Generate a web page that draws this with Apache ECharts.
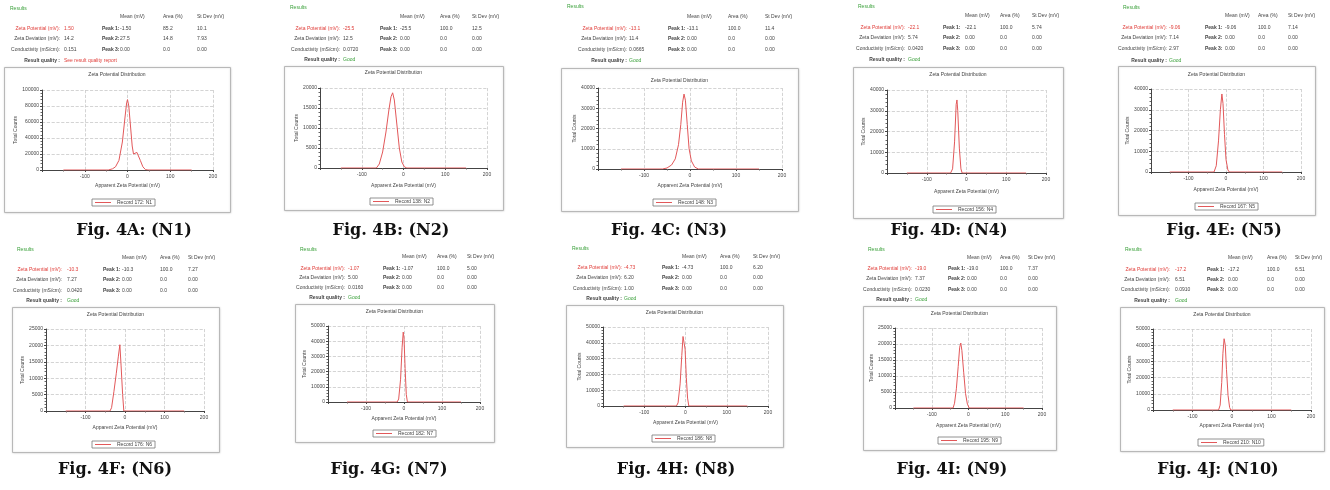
<!DOCTYPE html>
<html><head><meta charset="utf-8">
<script src="https://cdn.jsdelivr.net/npm/echarts@6/dist/echarts.min.js"></script>
<style>html,body{margin:0;padding:0;background:#fff}#c{width:1330px;height:490px}</style>
</head><body><div id="c"></div>
<script>
// ---------- DATA ----------
const figLabels = ['4A','4B','4C','4D','4E','4F','4G','4H','4I','4J'];
const sampleNames = ['N1','N2','N3','N4','N5','N6','N7','N8','N9','N10'];
const recordNames = ['Record 172: N1','Record 138: N2','Record 148: N3','Record 156: N4','Record 167: N5',
                     'Record 176: N6','Record 182: N7','Record 186: N8','Record 195: N9','Record 210: N10'];
const zetaPotential = ['1.50','-25.5','-13.1','-22.1','-9.06','-10.3','-1.07','-4.73','-19.0','-17.2'];
const zetaDeviation = ['14.2','12.5','11.4','5.74','7.14','7.27','5.00','6.20','7.37','6.51'];
const conductivity  = ['0.151','0.0720','0.0665','0.0420','2.97','0.0420','0.0160','1.00','0.0230','0.0910'];
const peak1Mean = ['-1.50','-25.5','-13.1','-22.1','-9.06','-10.3','-1.07','-4.73','-19.0','-17.2'];
const peak1Area = ['85.2','100.0','100.0','100.0','100.0','100.0','100.0','100.0','100.0','100.0'];
const peak1Sd   = ['10.1','12.5','11.4','5.74','7.14','7.27','5.00','6.20','7.37','6.51'];
const peak2Mean = ['27.5','0.00','0.00','0.00','0.00','0.00','0.00','0.00','0.00','0.00'];
const peak2Area = ['14.8','0.0','0.0','0.0','0.0','0.0','0.0','0.0','0.0','0.0'];
const peak2Sd   = ['7.93','0.00','0.00','0.00','0.00','0.00','0.00','0.00','0.00','0.00'];
const peak3Mean = ['0.00','0.00','0.00','0.00','0.00','0.00','0.00','0.00','0.00','0.00'];
const peak3Area = ['0.0','0.0','0.0','0.0','0.0','0.0','0.0','0.0','0.0','0.0'];
const peak3Sd   = ['0.00','0.00','0.00','0.00','0.00','0.00','0.00','0.00','0.00','0.00'];
const resultQuality = ['See result quality report','Good','Good','Good','Good','Good','Good','Good','Good','Good'];

const yMax  = [100000, 20000, 40000, 40000, 40000, 25000, 50000, 50000, 25000, 50000];
const yStep = [20000, 5000, 10000, 10000, 10000, 5000, 10000, 10000, 5000, 10000];
const xMin = -200, xMax = 200, xStep = 100;

const n1Zeta   = [-150,-45,-35,-28,-20,-12,-6,-2,0,3,7,11,14,18,22,26,30,36,42,48,150];
const n1Counts = [0,0,1500,4000,12000,35000,65000,84000,88000,80000,55000,30000,20000,18000,22000,21000,12000,4000,500,0,0];
const n2Zeta   = [-150,-65,-58,-50,-42,-35,-30,-26,-22,-16,-10,-4,2,8,150];
const n2Counts = [0,0,1000,4000,9000,14500,17800,18800,17000,11000,5000,1500,300,0,0];
const n3Zeta   = [-150,-60,-50,-40,-32,-25,-20,-16,-13,-10,-6,-2,3,10,18,150];
const n3Counts = [0,0,500,2000,5000,12000,22000,33000,37000,34000,22000,10000,4000,1000,0,0];
const n4Zeta   = [-150,-40,-35,-30,-26,-24,-22,-18,-14,-11,150];
const n4Counts = [0,0,2000,15000,33000,35200,30000,12000,2000,0,0];
const n5Zeta   = [-150,-32,-26,-20,-15,-11,-8,-4,0,5,9,150];
const n5Counts = [0,0,3000,15000,30000,37600,33000,18000,6000,1000,0,0];
const n6Zeta   = [-150,-38,-34,-28,-22,-17,-13,-10,-6,-3,150];
const n6Counts = [0,0,1000,6000,11500,16500,20200,14000,5000,0,0];
const n7Zeta   = [-150,-18,-14,-9,-5,-2,0,3,6,9,150];
const n7Counts = [0,0,2000,15000,36000,46000,42000,22000,5000,0,0];
const n8Zeta   = [-150,-22,-18,-13,-9,-6,-4,-1,2,5,8,150];
const n8Counts = [0,0,2000,14000,32000,44000,45000,36000,18000,5000,0,0];
const n9Zeta   = [-150,-42,-38,-33,-28,-24,-21,-18,-13,-8,-3,2,150];
const n9Counts = [0,0,1500,6000,13000,19000,20300,18000,11000,4500,1200,0,0];
const n10Zeta   = [-150,-34,-30,-26,-23,-20,-17,-14,-10,-6,-3,150];
const n10Counts = [0,0,3000,17000,35000,44000,40000,25000,9000,1500,0,0];

const zetaSets  = [n1Zeta,n2Zeta,n3Zeta,n4Zeta,n5Zeta,n6Zeta,n7Zeta,n8Zeta,n9Zeta,n10Zeta];
const countSets = [n1Counts,n2Counts,n3Counts,n4Counts,n5Counts,n6Counts,n7Counts,n8Counts,n9Counts,n10Counts];

// ---------- LAYOUT (pixel geometry of each panel) ----------
const L = [
 {r:[10,9],  hy:17, rows:[29,39,50,61], lr:60,  vx:64,  px:102, mx:120, ax:163, sx:197, box:[4,67,226,145],   g:[42,90,213,170],   ty:75, xl:183, lg:[92,199],  cap:[134,231]},
 {r:[290,8], hy:17, rows:[29,39,50,60], lr:340, vx:343, px:380, mx:400, ax:440, sx:472, box:[284,66,219,144], g:[320,88,487,168],  ty:73, xl:183, lg:[370,198], cap:[391,231]},
 {r:[567,7], hy:17, rows:[29,39,50,61], lr:627, vx:629, px:668, mx:687, ax:728, sx:765, box:[561,68,237,143], g:[598,88,782,169],  ty:81, xl:183, lg:[653,199], cap:[669,231]},
 {r:[858,7], hy:16, rows:[28,38,49,60], lr:905, vx:908, px:943, mx:965, ax:1000,sx:1032,box:[853,67,210,151], g:[887,90,1046,173], ty:75, xl:189, lg:[933,206], cap:[949,231]},
 {r:[1123,8],hy:16, rows:[28,38,49,61], lr:1167,vx:1169,px:1205,mx:1225,ax:1258,sx:1288,box:[1118,66,197,149],g:[1151,89,1301,172],ty:75, xl:187, lg:[1195,203],cap:[1224,231]},
 {r:[17,250],hy:258,rows:[270,280,291,301],lr:62, vx:67, px:103, mx:122, ax:160, sx:188, box:[12,307,207,145], g:[46,329,204,411],  ty:315,xl:425, lg:[92,441],  cap:[115,470]},
 {r:[300,250],hy:257,rows:[269,278,288,298],lr:345,vx:348,px:383, mx:402, ax:437, sx:467, box:[295,304,199,138],g:[328,326,480,402], ty:312,xl:416, lg:[373,430], cap:[389,470]},
 {r:[572,249],hy:257,rows:[268,278,289,299],lr:622,vx:624,px:662, mx:682, ax:720, sx:753, box:[566,305,217,142],g:[603,327,768,406], ty:313,xl:420, lg:[652,435], cap:[676,470]},
 {r:[868,250],hy:258,rows:[269,279,290,300],lr:912,vx:915,px:948, mx:967, ax:1000,sx:1028,box:[863,306,193,144],g:[895,328,1042,408],ty:314,xl:423, lg:[938,437], cap:[952,470]},
 {r:[1125,250],hy:258,rows:[270,280,290,301],lr:1170,vx:1175,px:1207,mx:1228,ax:1267,sx:1295,box:[1120,307,204,144],g:[1153,329,1311,410],ty:315,xl:423,lg:[1198,439],cap:[1218,470]}
];

const RED = '#e0403c', GREEN = '#3aa03a', DARK = '#444', LINE = '#e2585a', FS = 5, FF = 'Liberation Sans, Arial, sans-serif';

function txt(x, y, s, opt) {
  opt = opt || {};
  const align = opt.align || 'left';
  return { type:'text', silent:true, z:10,
    style:{ x:x, y:y, text:s, fill:opt.color || DARK,
      font:(opt.weight||'normal') + ' ' + (opt.size||FS) + 'px ' + (opt.family||FF),
      align:align, textAlign:align, verticalAlign:'middle', textVerticalAlign:'middle' } };
}

const grids=[], xAxes=[], yAxes=[], series=[], legends=[], graphics=[];
L.forEach((p, i) => {
  const [gl, gt, gr, gb] = p.g;
  grids.push({ left:gl, top:gt, width:gr-gl, height:gb-gt, containLabel:false });
  xAxes.push({ type:'value', gridIndex:i, min:xMin, max:xMax, interval:xStep,
    name:'Apparent Zeta Potential (mV)', nameLocation:'middle', nameGap:p.xl-gb,
    nameTextStyle:{ fontSize:FS, color:DARK, fontFamily:FF },
    axisLine:{ show:true, onZero:false, lineStyle:{ color:'#444', width:1 } },
    axisTick:{ show:true, length:2, lineStyle:{ color:'#444' } },
    minorTick:{ show:true, splitNumber:2, length:1.5, lineStyle:{ color:'#666' } },
    axisLabel:{ fontSize:FS, color:DARK, fontFamily:FF, margin:4,
      formatter: v => v === xMin ? '' : String(v) },
    splitLine:{ show:true, lineStyle:{ color:'#c9c9c9', type:'dashed', width:0.8 } } });
  yAxes.push({ type:'value', gridIndex:i, min:0, max:yMax[i], interval:yStep[i],
    name:'Total Counts', nameLocation:'middle', nameGap:20, nameRotate:90,
    nameTextStyle:{ fontSize:FS, color:DARK, fontFamily:FF },
    axisLine:{ show:true, onZero:false, lineStyle:{ color:'#444', width:1 } },
    axisTick:{ show:true, length:2, lineStyle:{ color:'#444' } },
    minorTick:{ show:true, splitNumber:5, length:1.5, lineStyle:{ color:'#666' } },
    axisLabel:{ fontSize:FS, color:DARK, fontFamily:FF, margin:3, formatter: v => String(v) },
    splitLine:{ show:true, lineStyle:{ color:'#c9c9c9', type:'dashed', width:0.8 } } });
  series.push({ type:'line', name:recordNames[i], xAxisIndex:i, yAxisIndex:i,
    data: zetaSets[i].map((x, j) => [x, countSets[i][j]]),
    symbol:'none', showSymbol:false, smooth:false, animation:false, color:LINE,
    lineStyle:{ color:LINE, width:1 }, itemStyle:{ color:LINE } });
  legends.push({ data:[recordNames[i]], left:p.lg[0], top:p.lg[1], selectedMode:false,
    orient:'horizontal', padding:[1,3], itemWidth:16, itemHeight:1, itemGap:2, icon:'rect',
    itemStyle:{ color:LINE, borderWidth:0 },
    borderColor:'#777', borderWidth:0.8,
    textStyle:{ fontSize:FS, color:DARK, fontFamily:FF, padding:[0,0,0,1] } });

  graphics.push({ type:'rect', silent:true, z:-1,
    shape:{ x:p.box[0]+0.5, y:p.box[1]+0.5, width:p.box[2], height:p.box[3] },
    style:{ fill:'#fff', stroke:'#b8b8b8', lineWidth:1, shadowBlur:2, shadowColor:'rgba(0,0,0,0.15)' } });
  graphics.push(txt(p.r[0], p.r[1], 'Results', { color:GREEN }));
  graphics.push(txt(p.mx, p.hy, 'Mean (mV)'));
  graphics.push(txt(p.ax, p.hy, 'Area (%)'));
  graphics.push(txt(p.sx, p.hy, 'St Dev (mV)'));
  const lab = [['Zeta Potential (mV):', zetaPotential[i], RED],
               ['Zeta Deviation (mV):', zetaDeviation[i], DARK],
               ['Conductivity (mS/cm):', conductivity[i], DARK]];
  lab.forEach((row, k) => {
    graphics.push(txt(p.lr, p.rows[k], row[0], { align:'right', color:row[2] }));
    graphics.push(txt(p.vx, p.rows[k], row[1], { color:row[2] }));
  });
  graphics.push(txt(p.lr, p.rows[3], 'Result quality :', { align:'right', weight:'bold' }));
  graphics.push(txt(p.vx, p.rows[3], resultQuality[i], { color: resultQuality[i] === 'Good' ? GREEN : RED }));
  const peaks = [['Peak 1:', peak1Mean[i], peak1Area[i], peak1Sd[i]],
                 ['Peak 2:', peak2Mean[i], peak2Area[i], peak2Sd[i]],
                 ['Peak 3:', peak3Mean[i], peak3Area[i], peak3Sd[i]]];
  peaks.forEach((row, k) => {
    graphics.push(txt(p.px, p.rows[k], row[0], { weight:'bold' }));
    graphics.push(txt(p.mx, p.rows[k], row[1]));
    graphics.push(txt(p.ax, p.rows[k], row[2]));
    graphics.push(txt(p.sx, p.rows[k], row[3]));
  });
  graphics.push(txt(p.box[0] + p.box[2]/2, p.ty, 'Zeta Potential Distribution', { align:'center' }));
  graphics.push(txt(p.cap[0], p.cap[1], 'Fig. ' + figLabels[i] + ': (' + sampleNames[i] + ')',
    { align:'center', size:16, weight:'bold', family:'DejaVu Serif, serif', color:'#111' }));
});

const chart = echarts.init(document.getElementById('c'), null, { renderer:'canvas' });
chart.setOption({
  backgroundColor:'#fff', animation:false,
  grid:grids, xAxis:xAxes, yAxis:yAxes, series:series, legend:legends,
  graphic:{ elements:graphics }
});
</script></body></html>
